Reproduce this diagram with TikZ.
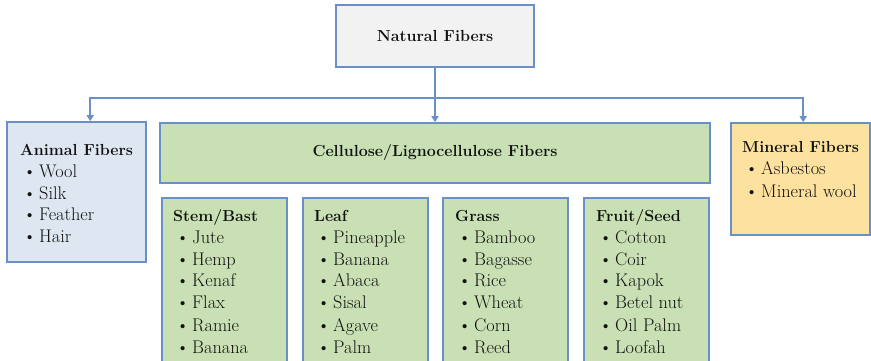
\documentclass[tikz,border=0pt]{standalone}
\usepackage{fontspec}
\usetikzlibrary{calc,arrows.meta}
\definecolor{bordc}{HTML}{6A90C8}
\definecolor{natfill}{HTML}{F2F2F2}
\definecolor{animfill}{HTML}{DDE6F1}
\definecolor{cellfill}{HTML}{C8E0B4}
\definecolor{minfill}{HTML}{FDE19E}
\definecolor{txtc}{HTML}{111111}
\newcommand\bul{\hspace*{3pt}\makebox[16pt][l]{\textbullet}}
\newcommand\fiblist[2]{\begin{tabular}[t]{@{}l@{}}{\fontsize{16}{22}\selectfont\bfseries #1}#2\end{tabular}}
\begin{document}
\begin{tikzpicture}[x=1pt,y=-1pt,
  box/.style={draw=bordc, line width=1.6pt, inner sep=0pt, text=txtc,
    font=\fontsize{16}{22}\selectfont\bfseries},
  lst/.style={anchor=base west, inner sep=0pt, text=txtc,
    font=\fontsize{18.3}{22}\selectfont},
  conn/.style={draw=bordc, line width=1.6pt},
  arr/.style={conn, -{Triangle[length=6pt,width=7pt]}}]
\useasboundingbox (0,0) rectangle (871,361);
\clip (0,0) rectangle (871,361);
% boxes
\node[box, fill=natfill, minimum width=198, minimum height=62] (nat) at (435,36) {Natural Fibers};
\node[box, fill=animfill, minimum width=139, minimum height=140] (animal) at (76.5,192) {};
\node[box, fill=cellfill, minimum width=550, minimum height=60] (cell) at (435,153) {Cellulose/Lignocellulose Fibers};
\node[box, fill=minfill, minimum width=139, minimum height=112] (mineral) at (800.5,179) {};
\node[box, fill=cellfill, minimum width=125, minimum height=172] (stem) at (224.5,284) {};
\node[box, fill=cellfill, minimum width=125, minimum height=172] (leaf) at (365.5,284) {};
\node[box, fill=cellfill, minimum width=125, minimum height=172] (grass) at (505.5,284) {};
\node[box, fill=cellfill, minimum width=125, minimum height=172] (fruit) at (646.5,284) {};
% connectors
\coordinate (j) at ($(nat.south)+(0,30)$);
\coordinate (aend) at ($(animal.north west)+(84,0)$);
\coordinate (mend) at ($(mineral.north west)+(73,0)$);
\draw[arr] (nat.south) -- (cell.north);
\draw[arr] (j) -| (aend);
\draw[arr] (j) -| (mend);
% lists
\node[lst] (animtxt) at (20,155) {\fiblist{Animal Fibers}{\\\bul Wool\\\bul Silk\\\bul Feather\\\bul Hair}};
\node[lst] (mintxt) at (742,153) {\fiblist{Mineral Fibers}{\\\bul Asbestos\\\bul Mineral wool}};
\node[lst] (stemtxt) at (173,221) {\fiblist{Stem/Bast}{\\\bul Jute\\\bul Hemp\\\bul Kenaf\\\bul Flax\\\bul Ramie\\\bul Banana}};
\node[lst] (leaftxt) at (314,221) {\fiblist{Leaf}{\\\bul Pineapple\\\bul Banana\\\bul Abaca\\\bul Sisal\\\bul Agave\\\bul Palm}};
\node[lst] (grasstxt) at (455,221) {\fiblist{Grass}{\\\bul Bamboo\\\bul Bagasse\\\bul Rice\\\bul Wheat\\\bul Corn\\\bul Reed}};
\node[lst] (fruittxt) at (596,221) {\fiblist{Fruit/Seed}{\\\bul Cotton\\\bul Coir\\\bul Kapok\\\bul Betel nut\\\bul Oil Palm\\\bul Loofah}};
\end{tikzpicture}
\end{document}
